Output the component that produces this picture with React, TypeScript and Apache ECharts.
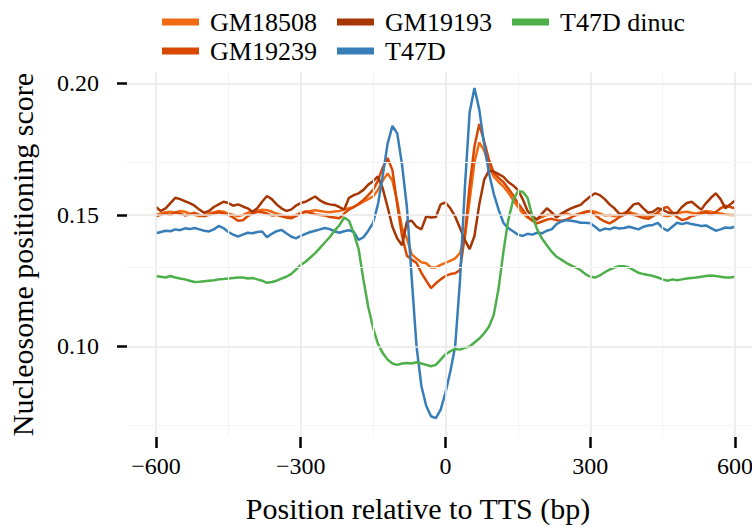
import React, { useEffect, useRef } from "react";
import * as echarts from "echarts";

const positions = [
  -600, -590, -580, -570, -560, -550, -540, -530, -520, -510,
  -500, -490, -480, -470, -460, -450, -440, -430, -420, -410,
  -400, -390, -380, -370, -360, -350, -340, -330, -320, -310,
  -300, -290, -280, -270, -260, -250, -240, -230, -220, -210,
  -200, -190, -180, -170, -160, -150, -140, -130, -120, -110,
  -100, -90, -80, -70, -60, -50, -40, -30, -20, -10,
  0, 10, 20, 30, 40, 50, 60, 70, 80, 90,
  100, 110, 120, 130, 140, 150, 160, 170, 180, 190,
  200, 210, 220, 230, 240, 250, 260, 270, 280, 290,
  300, 310, 320, 330, 340, 350, 360, 370, 380, 390,
  400, 410, 420, 430, 440, 450, 460, 470, 480, 490,
  500, 510, 520, 530, 540, 550, 560, 570, 580, 590,
  600,
];

const gm18508 = [
  0.1500, 0.1505, 0.1510, 0.1512, 0.1508, 0.1515, 0.1512, 0.1505, 0.1500, 0.1495,
  0.1498, 0.1505, 0.1510, 0.1515, 0.1512, 0.1505, 0.1500, 0.1495, 0.1500, 0.1508,
  0.1512, 0.1515, 0.1520, 0.1518, 0.1512, 0.1505, 0.1500, 0.1495, 0.1494, 0.1500,
  0.1508, 0.1513, 0.1515, 0.1518, 0.1515, 0.1512, 0.1510, 0.1513, 0.1515, 0.1520,
  0.1525, 0.1530, 0.1540, 0.1550, 0.1560, 0.1570, 0.1595, 0.1630, 0.1658, 0.1630,
  0.1550, 0.1450, 0.1410, 0.1350, 0.1334, 0.1320, 0.1316, 0.1300, 0.1300, 0.1310,
  0.1318, 0.1325, 0.1335, 0.1355, 0.1415, 0.1555, 0.1700, 0.1775, 0.1745, 0.1690,
  0.1645, 0.1625, 0.1608, 0.1585, 0.1557, 0.1530, 0.1506, 0.1490, 0.1480, 0.1485,
  0.1492, 0.1500, 0.1502, 0.1498, 0.1500, 0.1505, 0.1500, 0.1498, 0.1505, 0.1510,
  0.1515, 0.1512, 0.1505, 0.1498, 0.1500, 0.1495, 0.1500, 0.1508, 0.1512, 0.1505,
  0.1500, 0.1498, 0.1495, 0.1500, 0.1505, 0.1498, 0.1495, 0.1500, 0.1505, 0.1510,
  0.1512, 0.1508, 0.1505, 0.1510, 0.1515, 0.1512, 0.1508, 0.1505, 0.1502, 0.1500,
  0.1500,
];

const gm19239 = [
  0.1495, 0.1500, 0.1505, 0.1500, 0.1510, 0.1505, 0.1498, 0.1502, 0.1508, 0.1500,
  0.1495, 0.1500, 0.1505, 0.1510, 0.1505, 0.1500, 0.1490, 0.1478, 0.1480, 0.1495,
  0.1505, 0.1512, 0.1510, 0.1505, 0.1498, 0.1500, 0.1495, 0.1490, 0.1487, 0.1495,
  0.1505, 0.1512, 0.1508, 0.1502, 0.1500, 0.1498, 0.1492, 0.1490, 0.1487, 0.1505,
  0.1520, 0.1530, 0.1542, 0.1557, 0.1575, 0.1595, 0.1630, 0.1680, 0.1716, 0.1670,
  0.1540, 0.1420, 0.1345, 0.1330, 0.1317, 0.1280, 0.1250, 0.1222, 0.1240, 0.1255,
  0.1268, 0.1275, 0.1278, 0.1290, 0.1420, 0.1610, 0.1760, 0.1845, 0.1780, 0.1710,
  0.1660, 0.1640, 0.1625, 0.1600, 0.1575, 0.1545, 0.1520, 0.1494, 0.1478, 0.1468,
  0.1475, 0.1482, 0.1485, 0.1480, 0.1478, 0.1482, 0.1490, 0.1500, 0.1506, 0.1512,
  0.1515, 0.1500, 0.1485, 0.1475, 0.1468, 0.1478, 0.1492, 0.1500, 0.1505, 0.1500,
  0.1495, 0.1488, 0.1485, 0.1495, 0.1510, 0.1525, 0.1530, 0.1510, 0.1492, 0.1480,
  0.1485, 0.1495, 0.1500, 0.1505, 0.1510, 0.1502, 0.1510, 0.1525, 0.1535, 0.1530,
  0.1525,
];

const gm19193 = [
  0.1530, 0.1515, 0.1525, 0.1545, 0.1565, 0.1560, 0.1552, 0.1545, 0.1535, 0.1520,
  0.1508, 0.1515, 0.1530, 0.1540, 0.1550, 0.1545, 0.1535, 0.1540, 0.1532, 0.1525,
  0.1512, 0.1525, 0.1550, 0.1572, 0.1560, 0.1540, 0.1525, 0.1515, 0.1520, 0.1535,
  0.1545, 0.1550, 0.1560, 0.1570, 0.1555, 0.1545, 0.1540, 0.1538, 0.1530, 0.1520,
  0.1565, 0.1575, 0.1582, 0.1595, 0.1615, 0.1628, 0.1646, 0.1600, 0.1530, 0.1455,
  0.1410, 0.1385, 0.1474, 0.1478, 0.1455, 0.1445, 0.1494, 0.1490, 0.1492, 0.1540,
  0.1547, 0.1525, 0.1494, 0.1450, 0.1405, 0.1370, 0.1420, 0.1540, 0.1633, 0.1668,
  0.1665, 0.1655, 0.1645, 0.1625, 0.1612, 0.1595, 0.1560, 0.1515, 0.1495, 0.1482,
  0.1505, 0.1525, 0.1510, 0.1490, 0.1505, 0.1515, 0.1525, 0.1532, 0.1538, 0.1555,
  0.1570, 0.1582, 0.1575, 0.1560, 0.1540, 0.1525, 0.1505, 0.1500, 0.1520, 0.1540,
  0.1544, 0.1525, 0.1508, 0.1512, 0.1525, 0.1520, 0.1510, 0.1505, 0.1508, 0.1530,
  0.1545, 0.1550, 0.1535, 0.1520, 0.1545, 0.1565, 0.1582, 0.1560, 0.1525, 0.1540,
  0.1555,
];

const t47d = [
  0.1430, 0.1435, 0.1440, 0.1438, 0.1445, 0.1442, 0.1449, 0.1446, 0.1450, 0.1445,
  0.1440, 0.1437, 0.1445, 0.1458, 0.1450, 0.1435, 0.1425, 0.1418, 0.1425, 0.1432,
  0.1430, 0.1435, 0.1437, 0.1415, 0.1428, 0.1438, 0.1443, 0.1430, 0.1418, 0.1411,
  0.1420, 0.1428, 0.1435, 0.1440, 0.1445, 0.1450, 0.1446, 0.1438, 0.1432, 0.1438,
  0.1442, 0.1435, 0.1405, 0.1415, 0.1440, 0.1470, 0.1540, 0.1650, 0.1770, 0.1838,
  0.1810, 0.1690, 0.1530, 0.1260, 0.1000, 0.0850, 0.0775, 0.0735, 0.0728, 0.0760,
  0.0825, 0.0905, 0.1000, 0.1250, 0.1600, 0.1890, 0.1982, 0.1900, 0.1770, 0.1660,
  0.1580, 0.1520, 0.1470, 0.1450, 0.1438, 0.1425, 0.1420, 0.1428, 0.1425, 0.1432,
  0.1430, 0.1440, 0.1445, 0.1465, 0.1475, 0.1480, 0.1478, 0.1475, 0.1470, 0.1470,
  0.1468, 0.1455, 0.1440, 0.1448, 0.1445, 0.1452, 0.1448, 0.1450, 0.1455, 0.1450,
  0.1445, 0.1455, 0.1460, 0.1462, 0.1470, 0.1450, 0.1440, 0.1455, 0.1470, 0.1465,
  0.1470, 0.1465, 0.1462, 0.1458, 0.1460, 0.1450, 0.1440, 0.1445, 0.1452, 0.1450,
  0.1455,
];

const t47dDinuc = [
  0.1268, 0.1265, 0.1262, 0.1268, 0.1262, 0.1258, 0.1255, 0.1250, 0.1245, 0.1246,
  0.1248, 0.1250, 0.1252, 0.1255, 0.1256, 0.1258, 0.1260, 0.1262, 0.1262, 0.1258,
  0.1260, 0.1255, 0.1250, 0.1242, 0.1245, 0.1250, 0.1258, 0.1265, 0.1275, 0.1292,
  0.1310, 0.1322, 0.1338, 0.1355, 0.1375, 0.1395, 0.1415, 0.1440, 0.1460, 0.1490,
  0.1478, 0.1430, 0.1370, 0.1253, 0.1150, 0.1070, 0.1010, 0.0975, 0.0950, 0.0935,
  0.0930, 0.0935, 0.0937, 0.0935, 0.0940, 0.0935, 0.0930, 0.0925, 0.0930, 0.0950,
  0.0970, 0.0982, 0.0990, 0.0988, 0.0995, 0.1000, 0.1015, 0.1030, 0.1050, 0.1075,
  0.1120, 0.1220, 0.1360, 0.1480, 0.1555, 0.1590, 0.1588, 0.1565, 0.1495, 0.1445,
  0.1410, 0.1385, 0.1360, 0.1341, 0.1330, 0.1318, 0.1308, 0.1300, 0.1290, 0.1275,
  0.1265, 0.1262, 0.1270, 0.1282, 0.1292, 0.1300, 0.1305, 0.1305, 0.1300, 0.1290,
  0.1280, 0.1275, 0.1272, 0.1268, 0.1262, 0.1255, 0.1250, 0.1255, 0.1252, 0.1255,
  0.1258, 0.1260, 0.1262, 0.1265, 0.1268, 0.1270, 0.1268, 0.1265, 0.1262, 0.1262,
  0.1265,
];

const seriesNames = ["GM18508", "GM19239", "GM19193", "T47D", "T47D dinuc"];
const seriesValues = [gm18508, gm19239, gm19193, t47d, t47dDinuc];
const seriesColors = ["#f16913", "#d94801", "#a63603", "#377eb8", "#4daf4a"];

const xTicks = [-600, -300, 0, 300, 600];
const xMinorGrid = [-450, -150, 150, 450];
const yTicks = [0.1, 0.15, 0.2];
const yMinorGrid = [0.075, 0.125, 0.175];

const FONT = "Liberation Serif";

export default function App() {
  const ref = useRef<HTMLDivElement>(null);

  useEffect(() => {
    if (!ref.current) return;
    const chart = echarts.init(ref.current, null, { renderer: "svg" });

    const major = { color: "#e9e9e9", width: 1.6, type: "solid" };
    const minor = { color: "#f4f4f4", width: 1.2, type: "solid" };
    const gridLines = [
      ...xTicks.map((v) => ({ xAxis: v, lineStyle: major })),
      ...xMinorGrid.map((v) => ({ xAxis: v, lineStyle: minor })),
      ...yTicks.map((v) => ({ yAxis: v, lineStyle: major })),
      ...yMinorGrid.map((v) => ({ yAxis: v, lineStyle: minor })),
    ];

    const legendPos: Record<string, [number, number]> = {
      GM18508: [162, 9],
      GM19193: [337, 9],
      "T47D dinuc": [512, 9],
      GM19239: [162, 38],
      T47D: [337, 38],
    };

    const legends = Object.keys(legendPos).map((name) => ({
      data: [name],
      left: legendPos[name][0],
      top: legendPos[name][1],
      icon: "rect",
      itemWidth: 37,
      itemHeight: 7,
      padding: 0,
      selectedMode: false,
      textStyle: {
        fontFamily: FONT,
        fontSize: 26,
        color: "#000",
        lineHeight: 26,
        padding: [0, 0, 0, 6],
      },
    }));

    chart.setOption({
      animation: false,
      backgroundColor: "#ffffff",
      textStyle: { fontFamily: FONT },
      legend: legends,
      grid: {
        left: 127,
        right: -12,
        top: 72,
        bottom: 90,
        containLabel: false,
        outerBoundsMode: "none",
      },
      xAxis: {
        type: "value",
        min: -660,
        max: 660,
        axisLine: { show: false, onZero: false },
        splitLine: { show: false },
        axisTick: {
          show: true,
          customValues: xTicks,
          length: 11,
          lineStyle: { color: "#000", width: 2.5 },
        },
        axisLabel: {
          customValues: xTicks,
          formatter: (v: number) => (v < 0 ? "\u2212" + Math.abs(v) : String(v)),
          fontFamily: FONT,
          fontSize: 24,
          color: "#000",
          margin: 17,
        },
        name: "Position relative to TTS (bp)",
        nameLocation: "middle",
        nameGap: 56,
        nameTextStyle: {
          fontFamily: FONT,
          fontSize: 30,
          color: "#000",
          padding: [0, 55, 0, 0],
        },
      },
      yAxis: {
        type: "value",
        min: 0.0656,
        max: 0.2043,
        axisLine: { show: false, onZero: false },
        splitLine: { show: false },
        axisTick: {
          show: true,
          customValues: yTicks,
          length: 10,
          lineStyle: { color: "#000", width: 2.5 },
        },
        axisLabel: {
          customValues: yTicks,
          formatter: (v: number) => v.toFixed(2),
          fontFamily: FONT,
          fontSize: 24,
          color: "#000",
          margin: 28,
        },
        name: "Nucleosome positioning score",
        nameLocation: "middle",
        nameGap: 90,
        nameTextStyle: {
          fontFamily: FONT,
          fontSize: 30,
          color: "#000",
        },
      },
      series: [
        {
          type: "line",
          name: "__grid",
          data: [],
          z: 1,
          silent: true,
          markLine: {
            silent: true,
            symbol: ["none", "none"],
            label: { show: false },
            emphasis: { disabled: true },
            animation: false,
            data: gridLines,
          },
        },
        ...seriesNames.map((name, i) => ({
          type: "line",
          name,
          z: 2,
          color: seriesColors[i],
          showSymbol: false,
          symbol: "none",
          data: positions.map((x, j) => [x, seriesValues[i][j]]),
          lineStyle: { width: 2.5, color: seriesColors[i] },
          emphasis: { disabled: true },
        })),
      ],
    });

    return () => chart.dispose();
  }, []);

  return (
    <div
      ref={ref}
      style={{
        position: "absolute",
        left: 0,
        top: 0,
        width: 752,
        height: 527,
        background: "#ffffff",
      }}
    />
  );
}
